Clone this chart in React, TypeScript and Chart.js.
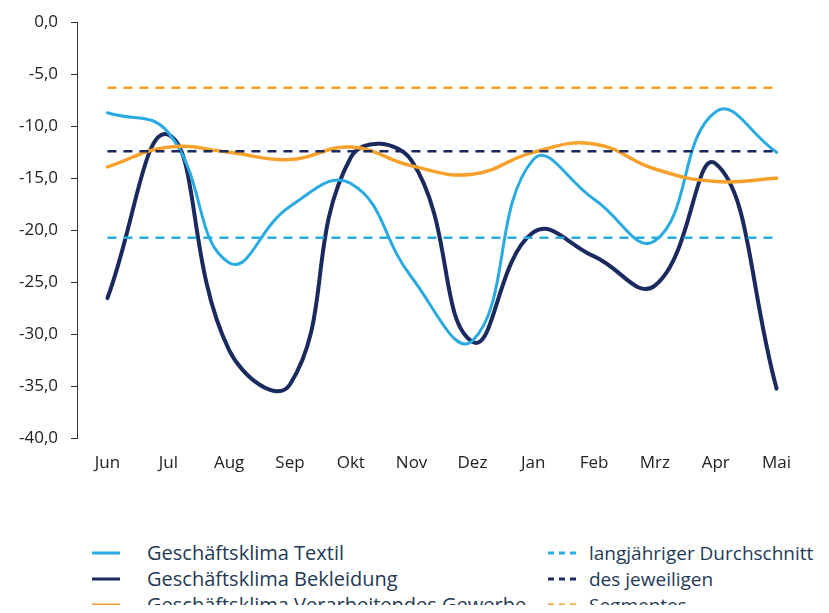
import React, { useEffect, useRef } from "react";
import { Chart, registerables } from "chart.js";

Chart.register(...registerables);

const months = ["Jun", "Jul", "Aug", "Sep", "Okt", "Nov", "Dez", "Jan", "Feb", "Mrz", "Apr", "Mai"];
const textil = [-8.7, -10.6, -23.1, -17.7, -15.5, -24.5, -30.6, -13.2, -17.0, -21.0, -8.6, -12.5];
const bekleidung = [-26.5, -10.8, -31.5, -34.8, -13.0, -13.3, -30.7, -20.2, -22.5, -25.3, -13.6, -35.2];
const gewerbe = [-13.9, -12.0, -12.5, -13.2, -12.0, -13.8, -14.6, -12.5, -11.7, -14.1, -15.3, -15.0];
const avgTextil = -20.7;
const avgBekleidung = -12.4;
const avgGewerbe = -6.3;
const yMin = -40;
const yMax = 0;
const yStep = 5;

const seriesLabels = [
  "Geschäftsklima Textil",
  "Geschäftsklima Bekleidung",
  "Geschäftsklima Verarbeitendes Gewerbe",
];
const avgLabels = ["langjähriger Durchschnitt", "des jeweiligen", "Segmentes"];

const C_TEXTIL = "#29ABE2";
const C_BEKL = "#1B2A5E";
const C_GEW = "#F7A12B";
const colors = [C_TEXTIL, C_BEKL, C_GEW];

const FONT = "'Open Sans', 'DejaVu Sans', sans-serif";

export default function App() {
  const ref = useRef<HTMLCanvasElement | null>(null);

  useEffect(() => {
    if (!ref.current) return;
    const flat = (v: number) => months.map(() => v);
    const dash = [9, 7];
    const chart = new Chart(ref.current, {
      type: "line",
      data: {
        labels: months,
        datasets: [
          { label: "avgGewerbe", data: flat(avgGewerbe), borderColor: C_GEW, borderWidth: 2.5, borderDash: dash, pointRadius: 0, tension: 0 },
          { label: "avgBekleidung", data: flat(avgBekleidung), borderColor: C_BEKL, borderWidth: 2.5, borderDash: dash, pointRadius: 0, tension: 0 },
          { label: "avgTextil", data: flat(avgTextil), borderColor: C_TEXTIL, borderWidth: 2.5, borderDash: dash, pointRadius: 0, tension: 0 },
          { label: seriesLabels[2], data: gewerbe, borderColor: C_GEW, borderWidth: 3.5, pointRadius: 0, tension: 0.45, borderCapStyle: "round" },
          { label: seriesLabels[0], data: textil, borderColor: C_TEXTIL, borderWidth: 3, pointRadius: 0, tension: 0.45, borderCapStyle: "round" },
          { label: seriesLabels[1], data: bekleidung, borderColor: C_BEKL, borderWidth: 4, pointRadius: 0, tension: 0.45, borderCapStyle: "round" },
        ],
      },
      options: {
        animation: false,
        responsive: false,
        maintainAspectRatio: false,
        layout: { padding: { top: 0, right: 12, left: 0, bottom: 0 } },
        plugins: { legend: { display: false }, tooltip: { enabled: false } },
        scales: {
          x: {
            offset: true,
            grid: { display: false },
            border: { display: false },
            ticks: { color: "#222", font: { family: FONT, size: 17 }, padding: 6 },
          },
          y: {
            min: yMin,
            max: yMax,
            grid: { drawOnChartArea: false, drawTicks: true, tickLength: 6, color: "#333" },
            border: { display: true, color: "#333", width: 1 },
            ticks: {
              stepSize: yStep,
              color: "#222",
              font: { family: FONT, size: 17 },
              padding: 13,
              callback: (v: any) => Number(v).toFixed(1).replace(".", ","),
            },
          },
        },
      },
    });
    return () => chart.destroy();
  }, []);

  const legendText: React.CSSProperties = {
    fontFamily: FONT,
    fontSize: 20,
    color: "#1f3a55",
    whiteSpace: "nowrap",
    lineHeight: "26px",
    height: 26,
    display: "flex",
    alignItems: "center",
  };

  return (
    <div style={{ position: "relative", width: 821, height: 597, overflow: "hidden" }}>
      <canvas ref={ref} width={813} height={480} style={{ display: "block", marginTop: -9, marginLeft: -2 }} />
      <div style={{ position: "absolute", left: 84, top: 532 }}>
        {seriesLabels.map((l, i) => (
          <div key={l} style={legendText}>
            <svg width={28} height={6} style={{ marginRight: 27 }}>
              <line x1={0} y1={3} x2={28} y2={3} stroke={colors[i]} strokeWidth={3} />
            </svg>
            <span>{l}</span>
          </div>
        ))}
      </div>
      <div style={{ position: "absolute", left: 540, top: 532 }}>
        {avgLabels.map((l, i) => (
          <div key={l} style={{ ...legendText, fontSize: 19 }}>
            <svg width={28} height={6} style={{ marginRight: 13 }}>
              <line x1={0} y1={3} x2={28} y2={3} stroke={colors[i]} strokeWidth={3} strokeDasharray="6 5" />
            </svg>
            <span>{l}</span>
          </div>
        ))}
      </div>
    </div>
  );
}
